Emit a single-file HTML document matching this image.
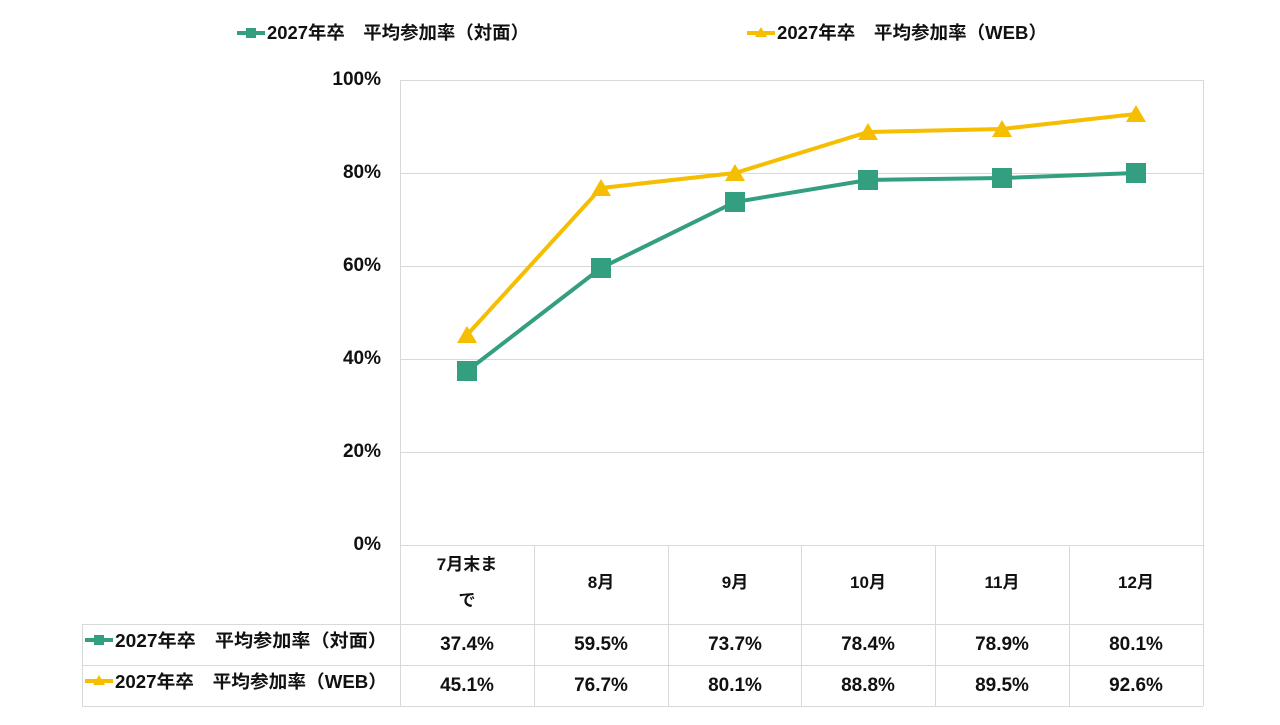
<!DOCTYPE html>
<html><head><meta charset="utf-8"><style>
html,body{margin:0;padding:0;background:#fff;}
svg text{font-family:"Liberation Sans","Noto Sans CJK JP",sans-serif;font-weight:bold;fill:#111;}
</style></head><body>
<svg width="1280" height="720" viewBox="0 0 1280 720" xmlns="http://www.w3.org/2000/svg">
<g stroke="#d9d9d9" stroke-width="1" fill="none">
<line x1="400" y1="80.5" x2="1203" y2="80.5"/>
<line x1="400" y1="173.5" x2="1203" y2="173.5"/>
<line x1="400" y1="266.5" x2="1203" y2="266.5"/>
<line x1="400" y1="359.5" x2="1203" y2="359.5"/>
<line x1="400" y1="452.5" x2="1203" y2="452.5"/>
<line x1="400" y1="545.5" x2="1203" y2="545.5"/>
<line x1="400.5" y1="80" x2="400.5" y2="706"/>
<line x1="1203.5" y1="80" x2="1203.5" y2="706"/>
<line x1="534.5" y1="545" x2="534.5" y2="706"/>
<line x1="668.5" y1="545" x2="668.5" y2="706"/>
<line x1="801.5" y1="545" x2="801.5" y2="706"/>
<line x1="935.5" y1="545" x2="935.5" y2="706"/>
<line x1="1069.5" y1="545" x2="1069.5" y2="706"/>
<line x1="82.5" y1="624" x2="82.5" y2="706"/>
<line x1="82" y1="624.5" x2="1203" y2="624.5"/>
<line x1="82" y1="665.5" x2="1203" y2="665.5"/>
<line x1="82" y1="706.5" x2="1203" y2="706.5"/>
</g>
<g font-size="19" text-anchor="end">
<text x="381" y="85">100%</text><text x="381" y="178">80%</text><text x="381" y="271">60%</text>
<text x="381" y="364">40%</text><text x="381" y="457">20%</text><text x="381" y="550">0%</text>
</g>
<g font-size="17" text-anchor="middle">
<text x="467" y="570">7月末ま</text><text x="467" y="606">で</text>
<text x="601" y="588">8月</text><text x="735" y="588">9月</text><text x="868" y="588">10月</text>
<text x="1002" y="588">11月</text><text x="1136" y="588">12月</text>
</g>
<g font-size="19" text-anchor="middle">
<text x="467" y="650">37.4%</text><text x="601" y="650">59.5%</text><text x="735" y="650">73.7%</text>
<text x="868" y="650">78.4%</text><text x="1002" y="650">78.9%</text><text x="1136" y="650">80.1%</text>
<text x="467" y="691">45.1%</text><text x="601" y="691">76.7%</text><text x="735" y="691">80.1%</text>
<text x="868" y="691">88.8%</text><text x="1002" y="691">89.5%</text><text x="1136" y="691">92.6%</text>
</g>
<g font-size="18">
<line x1="85" y1="640" x2="113" y2="640" stroke="#339e80" stroke-width="4"/><rect x="94" y="635" width="10" height="10" fill="#339e80"/>
<text x="115" y="647" textLength="272" lengthAdjust="spacingAndGlyphs">2027年卒　平均参加率（対面）</text>
<line x1="85" y1="681" x2="113" y2="681" stroke="#f5be00" stroke-width="4"/><polygon points="99,675 105,685 93,685" fill="#f5be00"/>
<text x="115" y="688" textLength="272" lengthAdjust="spacingAndGlyphs">2027年卒　平均参加率（WEB）</text>
</g>
<g font-size="18">
<line x1="237" y1="33" x2="265" y2="33" stroke="#339e80" stroke-width="4"/><rect x="246" y="28" width="10" height="10" fill="#339e80"/>
<text x="267" y="39" textLength="262" lengthAdjust="spacingAndGlyphs">2027年卒　平均参加率（対面）</text>
<line x1="747" y1="33" x2="775" y2="33" stroke="#f5be00" stroke-width="4"/><polygon points="761,27 767,37 755,37" fill="#f5be00"/>
<text x="777" y="39" textLength="270" lengthAdjust="spacingAndGlyphs">2027年卒　平均参加率（WEB）</text>
</g>
<polyline fill="none" stroke="#f5be00" stroke-width="4" points="467,335 601,188 735,173 868,132 1002,129 1136,114"/>
<g fill="#f5be00">
<polygon points="467,326 477,343 457,343"/><polygon points="601,179 611,196 591,196"/>
<polygon points="735,164 745,181 725,181"/><polygon points="868,123 878,140 858,140"/>
<polygon points="1002,120 1012,137 992,137"/><polygon points="1136,105 1146,122 1126,122"/>
</g>
<polyline fill="none" stroke="#339e80" stroke-width="4" points="467,371 601,268 735,202 868,180 1002,178 1136,173"/>
<g fill="#339e80">
<rect x="457" y="361" width="20" height="20"/><rect x="591" y="258" width="20" height="20"/>
<rect x="725" y="192" width="20" height="20"/><rect x="858" y="170" width="20" height="20"/>
<rect x="992" y="168" width="20" height="20"/><rect x="1126" y="163" width="20" height="20"/>
</g>
</svg>
</body></html>
